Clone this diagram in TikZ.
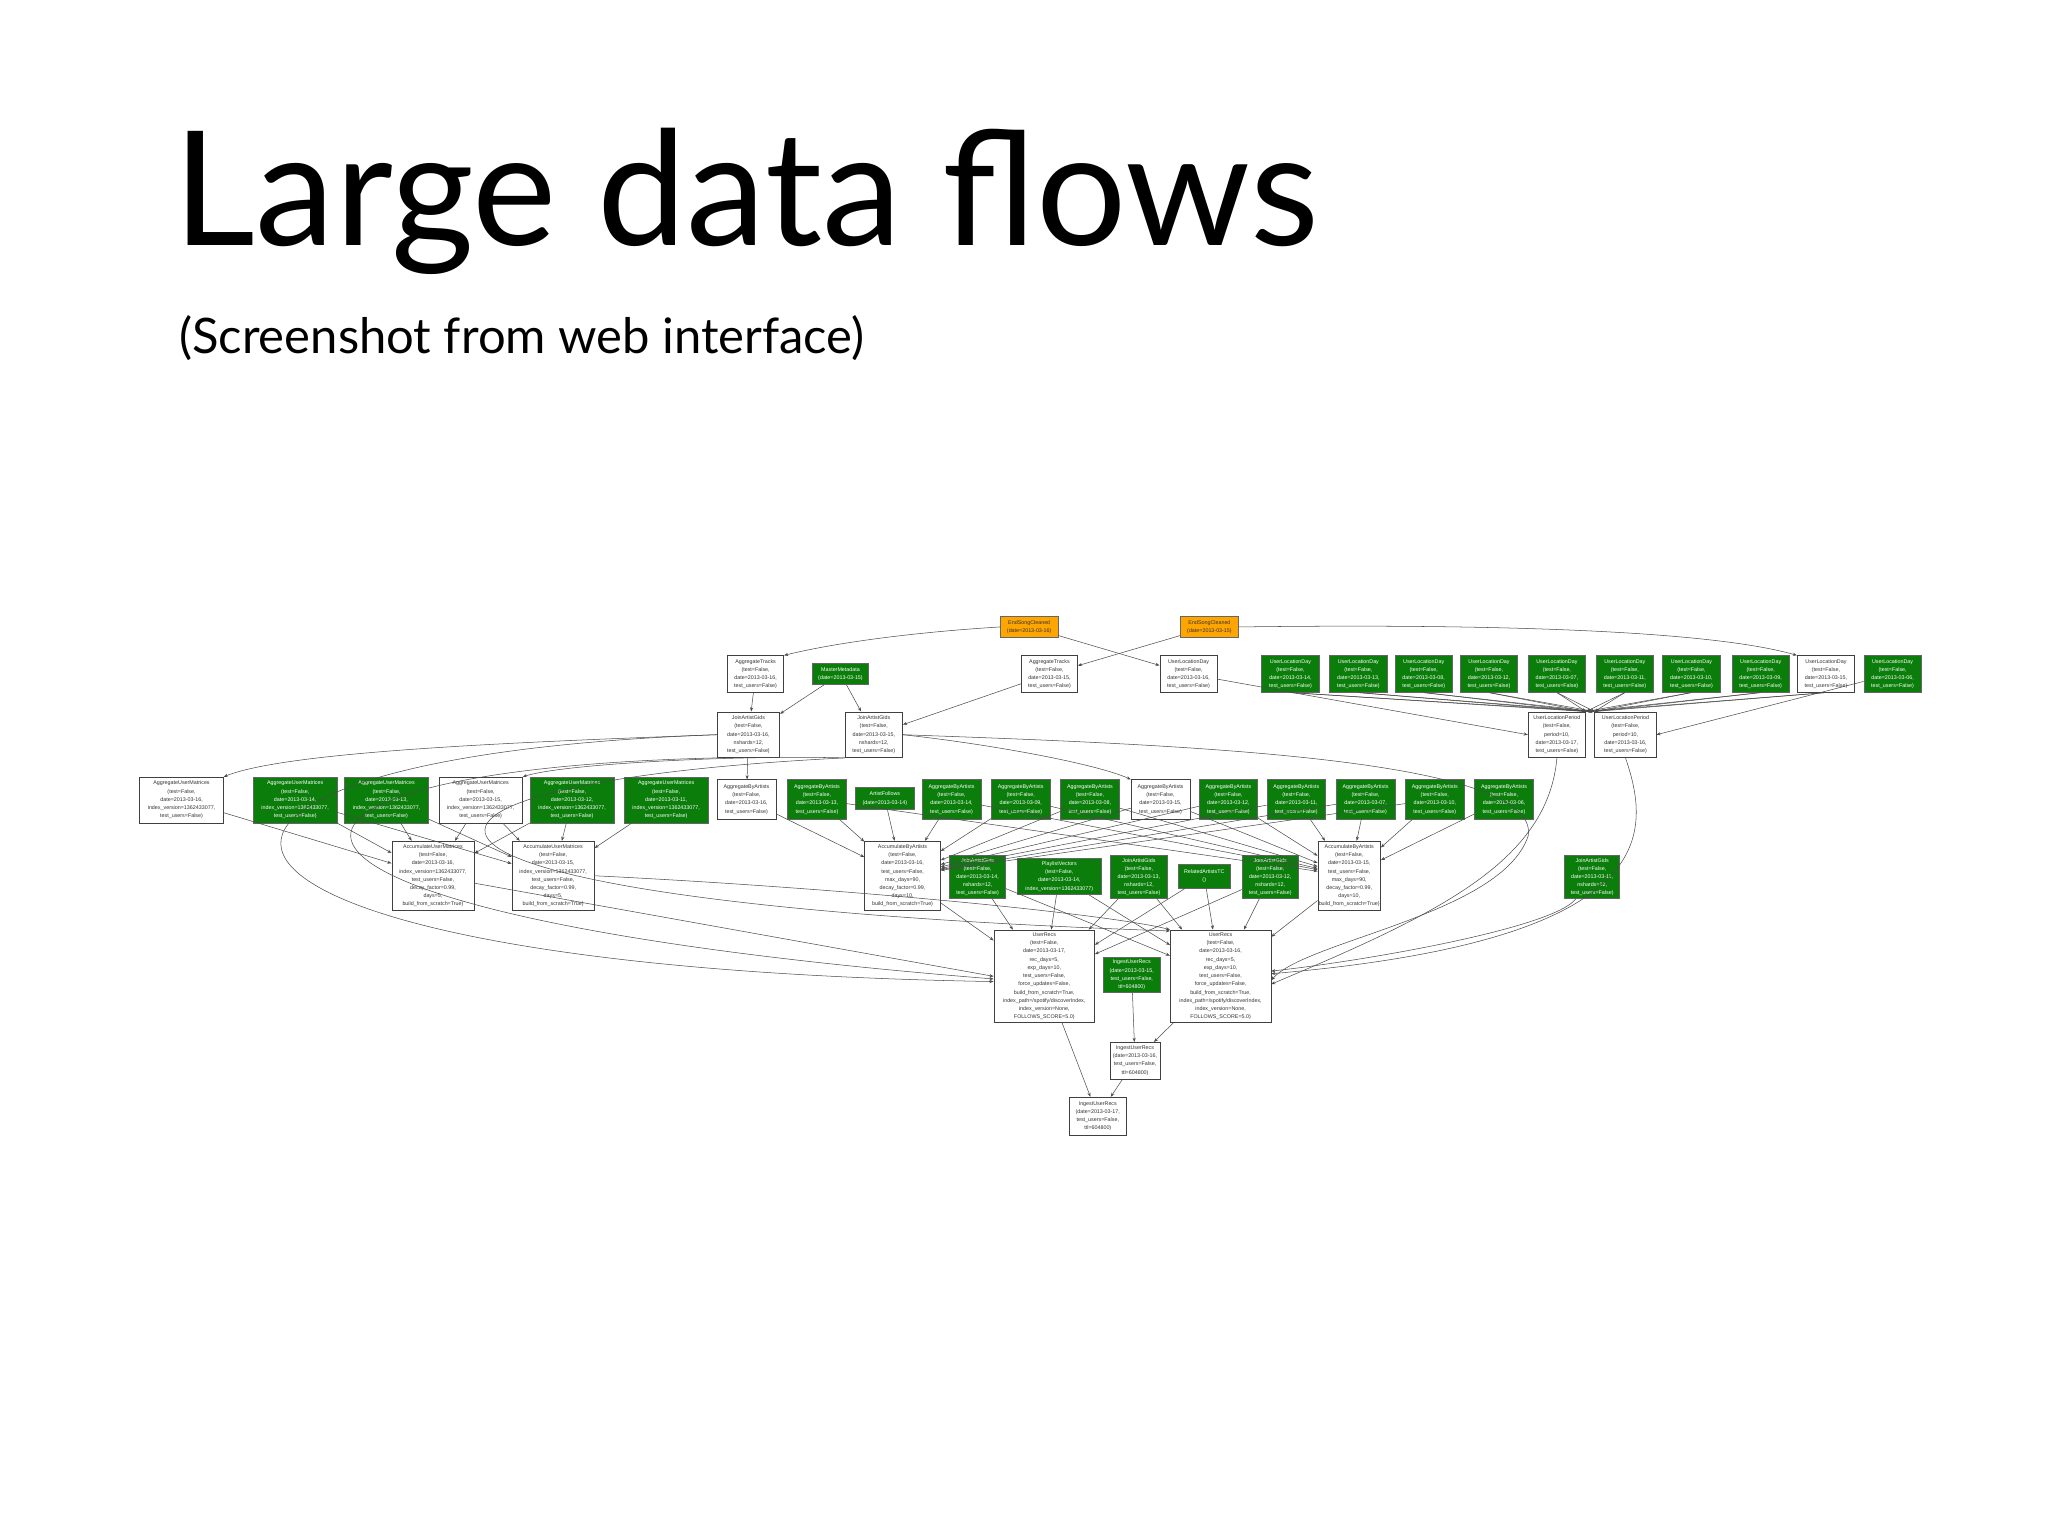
\documentclass[tikz,border=0pt]{standalone}
\usepackage{fontspec}
\setmainfont{Liberation Sans}
\newfontfamily\titlefont{Lato}
\usetikzlibrary{arrows.meta}
\definecolor{gvgreen}{RGB}{10,125,10}
\definecolor{gvorange}{RGB}{255,165,0}
\newcommand\bx[7]{\node[#6,minimum width={(#4-#2)*1pt},minimum height={(#5-#3)*1pt}] (#1) at ({(#2+#4)/2},{(#3+#5)/2}) {#7};}
\tikzset{
 box/.style={draw=black!75,line width=0.5pt,inner sep=0pt,align=center,font=\fontsize{4.1}{6.3}\selectfont},
 wbox/.style={box,fill=white,text=black!80},
 gbox/.style={box,fill=gvgreen,draw=black!60,text=white},
 obox/.style={box,fill=gvorange,draw=black!60,text=black!80},
 edge/.style={draw=black!70,line width=0.4pt,-{Stealth[length=3.2pt,width=2.4pt]}},
}
\begin{document}
\begin{tikzpicture}[x=1pt,y=-1pt]
\useasboundingbox[fill=white] (0,0) rectangle (1568,1176);
\node[anchor=base west,inner sep=0pt,font=\titlefont\fontsize{122}{122}\selectfont] (title) at (133,188) {Large data flows};
\node[anchor=base west,inner sep=0pt,font=\titlefont\fontsize{37.5}{37.5}\selectfont] (sub) at (137,271) {(Screenshot from web interface)};
% row 0
\bx{esc16}{766}{472}{810}{488}{obox}{EndSongCleaned\\(date=2013-03-16)}
\bx{esc15}{904}{472}{948}{488}{obox}{EndSongCleaned\\(date=2013-03-15)}
% row 1
\bx{at16}{557}{502}{600}{530}{wbox}{AggregateTracks\\(test=False,\\date=2013-03-16,\\test\_users=False)}
\bx{mm}{622}{508}{665}{524}{gbox}{MasterMetadata\\(date=2013-03-15)}
\bx{at15}{782}{502}{825}{530}{wbox}{AggregateTracks\\(test=False,\\date=2013-03-15,\\test\_users=False)}
\bx{uld16}{888}{502}{932}{530}{wbox}{UserLocationDay\\(test=False,\\date=2013-03-16,\\test\_users=False)}
\foreach \n/\a/\d/\s in {14/966/14/gbox,13/1018/13/gbox,08/1068/08/gbox,12/1118/12/gbox,07/1170/07/gbox,11/1222/11/gbox,10/1273/10/gbox,09/1326/09/gbox,15/1376/15/wbox,06/1427/06/gbox}{
 \pgfmathsetmacro\bb{\a+44}
 \bx{uld\n}{\a}{502}{\bb}{530}{\s}{UserLocationDay\\(test=False,\\date=2013-03-\d,\\test\_users=False)}
}
% row 2
\bx{jag16}{549}{545}{597}{580}{wbox}{JoinArtistGids\\(test=False,\\date=2013-03-16,\\nshards=12,\\test\_users=False)}
\bx{jag15}{647}{545}{691}{580}{wbox}{JoinArtistGids\\(test=False,\\date=2013-03-15,\\nshards=12,\\test\_users=False)}
\bx{ulp17}{1170}{545}{1214}{580}{wbox}{UserLocationPeriod\\(test=False,\\period=10,\\date=2013-03-17,\\test\_users=False)}
\bx{ulp16}{1221}{545}{1268}{580}{wbox}{UserLocationPeriod\\(test=False,\\period=10,\\date=2013-03-16,\\test\_users=False)}
% row 3
\foreach \n/\a/\s in {16/107/wbox,14/194/gbox,13/264/gbox,15/336/wbox,12/406/gbox,11/478/gbox}{
 \pgfmathsetmacro\bb{\a+64}
 \bx{aum\n}{\a}{595}{\bb}{630}{\s}{AggregateUserMatrices\\(test=False,\\date=2013-03-\n,\\index\_version=1362433077,\\test\_users=False)}
}
\foreach \n/\a/\s in {16/549/wbox,13/603/gbox,14/706/gbox,09/759/gbox,08/812/gbox,15/866/wbox,12/918/gbox,11/970/gbox,07/1023/gbox,10/1076/gbox,06/1129/gbox}{
 \pgfmathsetmacro\bb{\a+45}
 \bx{aba\n}{\a}{597}{\bb}{627}{\s}{AggregateByArtists\\(test=False,\\date=2013-03-\n,\\test\_users=False)}
}
\bx{af}{655}{603}{700}{620}{gbox}{ArtistFollows\\(date=2013-03-14)}
% row 4
\bx{aumat16}{300}{644}{363}{697}{wbox}{AccumulateUserMatrices\\(test=False,\\date=2013-03-16,\\index\_version=1362433077,\\test\_users=False,\\decay\_factor=0.99,\\days=5,\\build\_from\_scratch=True)}
\bx{aumat15}{392}{644}{455}{697}{wbox}{AccumulateUserMatrices\\(test=False,\\date=2013-03-15,\\index\_version=1362433077,\\test\_users=False,\\decay\_factor=0.99,\\days=5,\\build\_from\_scratch=True)}
\bx{accba16}{662}{644}{720}{697}{wbox}{AccumulateByArtists\\(test=False,\\date=2013-03-16,\\test\_users=False,\\max\_days=90,\\decay\_factor=0.99,\\days=10,\\build\_from\_scratch=True)}
\bx{accba15}{1009}{644}{1057}{697}{wbox}{AccumulateByArtists\\(test=False,\\date=2013-03-15,\\test\_users=False,\\max\_days=90,\\decay\_factor=0.99,\\days=10,\\build\_from\_scratch=True)}
\bx{jag14}{727}{655}{770}{688}{gbox}{JoinArtistGids\\(test=False,\\date=2013-03-14,\\nshards=12,\\test\_users=False)}
\bx{pv}{779}{657}{843}{685}{gbox}{PlaylistVectors\\(test=False,\\date=2013-03-14,\\index\_version=1362433077)}
\bx{jag13}{850}{655}{894}{688}{gbox}{JoinArtistGids\\(test=False,\\date=2013-03-13,\\nshards=12,\\test\_users=False)}
\bx{ratc}{902}{662}{942}{680}{gbox}{RelatedArtistsTC\\()}
\bx{jag12}{951}{655}{994}{688}{gbox}{JoinArtistGids\\(test=False,\\date=2013-03-12,\\nshards=12,\\test\_users=False)}
\bx{jag11}{1198}{655}{1240}{688}{gbox}{JoinArtistGids\\(test=False,\\date=2013-03-11,\\nshards=12,\\test\_users=False)}
% row 5
\bx{ur17}{761}{712}{838}{783}{wbox}{UserRecs\\(test=False,\\date=2013-03-17,\\rec\_days=5,\\exp\_days=10,\\test\_users=False,\\force\_updates=False,\\build\_from\_scratch=True,\\index\_path=/spotify/discoverIndex,\\index\_version=None,\\FOLLOWS\_SCORE=5.0)}
\bx{ur16}{896}{712}{973}{783}{wbox}{UserRecs\\(test=False,\\date=2013-03-16,\\rec\_days=5,\\exp\_days=10,\\test\_users=False,\\force\_updates=False,\\build\_from\_scratch=True,\\index\_path=/spotify/discoverIndex,\\index\_version=None,\\FOLLOWS\_SCORE=5.0)}
\bx{iur15}{845}{733}{888}{760}{gbox}{IngestUserRecs\\(date=2013-03-15,\\test\_users=False,\\ttl=604800)}
\bx{iur16}{850}{798}{888}{826}{wbox}{IngestUserRecs\\(date=2013-03-16,\\test\_users=False,\\ttl=604800)}
\bx{iur17}{819}{840}{862}{869}{wbox}{IngestUserRecs\\(date=2013-03-17,\\test\_users=False,\\ttl=604800)}
% edges
\draw[edge] (esc16.west) .. controls (700,484) and (640,492) .. (at16.north east);
\draw[edge] (esc16) -- (uld16);
\draw[edge] (esc15) -- (at15);
\draw[edge] (esc15.east) .. controls (1100,478) and (1300,480) .. (uld15.north west);
\draw[edge] (at16) -- (jag16);
\draw[edge] (mm) -- (jag16);
\draw[edge] (mm) -- (jag15);
\draw[edge] (at15) -- (jag15);
\draw[edge] (uld16) -- (ulp17.west);
\foreach \n in {14,13,08,12,07,11,10,09,15}{
 \draw[edge] (uld\n.south) -- (ulp17.north east);
 \draw[edge] (uld\n.south) -- (ulp16.north west);
}
\draw[edge] (uld06) -- (ulp16.east);
\draw[edge] (jag16.west) .. controls (400,568) and (220,575) .. (aum16.north east);
\draw[edge] (jag15.south west) .. controls (560,578) and (430,585) .. (aum15.north east);
\draw[edge] (jag16) -- (aba16);
\draw[edge] (jag15.east) .. controls (760,570) and (840,585) .. (aba15.north west);
\foreach \a/\b in {16/16,14/16,13/16,15/16,12/16,14/15,13/15,15/15,12/15,11/15}{
 \draw[edge] (aum\a) -- (aumat\b);
}
\foreach \n in {16,13,14,09,08,15,12,11,07,10}{\draw[edge] (aba\n) -- (accba16);}
\foreach \n in {13,14,09,08,15,12,11,07,10,06}{\draw[edge] (aba\n) -- (accba15);}
\draw[edge] (af) -- (accba16);
\foreach \s in {accba16,jag14,pv,jag13,ratc,jag12}{\draw[edge] (\s) -- (ur17);}
\foreach \s in {jag14,pv,jag13,ratc,jag12,accba15}{\draw[edge] (\s) -- (ur16);}
\draw[edge] (aumat16) -- (ur17.west);
\draw[edge] (aumat15.east) .. controls (650,680) and (850,700) .. (ur16.north west);
\draw[edge] (jag16.west) .. controls (60,580) and (90,740) .. ([yshift=-4pt]ur17.west);
\draw[edge] (jag16.south west) .. controls (150,590) and (140,700) .. ([yshift=-2pt]ur17.west);
\draw[edge] (jag15.south west) .. controls (250,600) and (240,690) .. ([yshift=-1pt]ur16.north west);
\draw[edge] (jag15.east) .. controls (900,570) and (1180,580) .. (1170,640) .. controls (1150,700) and (1000,720) .. ([yshift=-3pt]ur16.east);
\draw[edge] (ulp17.south) .. controls (1185,660) and (1100,700) .. ([yshift=-6pt]ur16.east);
\draw[edge] (ulp16.south) .. controls (1265,640) and (1270,720) .. ([yshift=2pt]ur16.east);
\draw[edge] (jag11) .. controls (1190,710) and (1050,735) .. ([yshift=4pt]ur16.east);
\draw[edge] (ur16) -- (iur16);
\draw[edge] (iur15) -- (iur16);
\draw[edge] (ur17) -- (iur17);
\draw[edge] (iur16) -- (iur17);
\end{tikzpicture}
\end{document}
